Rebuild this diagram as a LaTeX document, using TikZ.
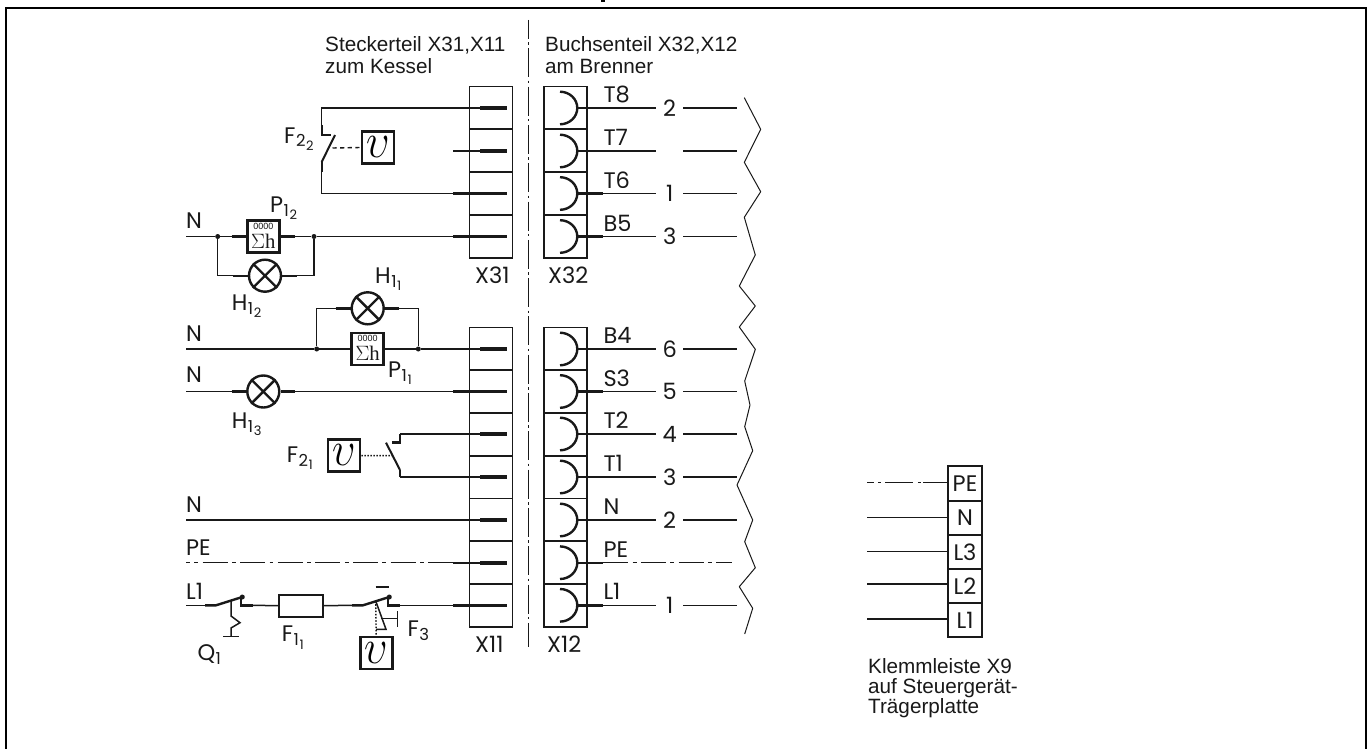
\documentclass[tikz,border=0pt]{standalone}
\usepackage{fontspec}
\usepackage{graphicx}
\setmainfont{Liberation Sans}
\newfontfamily\labfont{Poppins}
\newfontfamily\hfont{Liberation Serif}
\newcommand{\hdrsize}{\fontsize{20.7}{20.7}\selectfont}
\newcommand{\labsize}{\labfont\fontsize{22.5}{22.5}\selectfont}
\newcommand{\subsize}{\fontsize{16.5}{16.5}\selectfont}
\newcommand{\subsubsize}{\fontsize{13}{13}\selectfont}
% name with a subscript and a sub-subscript
\newcommand{\subtag}[3]{#1\kern0.5pt\raisebox{-4pt}{\subsize #2\kern0.5pt\raisebox{-3.5pt}{\subsubsize #3}}}
\colorlet{ink}{black!90}
\usetikzlibrary{calc}
\tikzset{
  frame/.style={line width=2.2pt,black},
  wire/.style={line width=1.5pt,ink},
  thinz/.style={line width=1pt,ink},
  stub/.style={line width=2.4pt,ink},
  pinbar/.style={line width=3.6pt,ink},
  conn/.style={line width=1.6pt,ink},
  thick box/.style={draw=ink,line width=2.8pt,inner sep=0pt},
  lamp/.style={draw=ink,circle,line width=2.4pt,minimum size=32pt,inner sep=0pt},
  lab/.style={inner sep=0pt,anchor=base west,font=\labsize,text=ink},
  hdr/.style={inner sep=0pt,anchor=base west,font=\hdrsize,text=ink},
  pewire/.style={line width=1.5pt,ink},
  dot/.style={circle,fill=ink,inner sep=0pt,minimum size=5pt},
  numnode/.style={inner sep=0pt,minimum width=26.6pt,minimum height=10pt,font=\labsize,text=ink},
}
\newcommand{\thermo}{\fontsize{20.7}{20.7}\selectfont\scalebox{2.0}[2.35]{$\upsilon$}}
\newcommand{\hourbox}[3]{%
  \node[thick box,minimum width=32pt,minimum height=32pt] (#1) at (#2,#3) {};
  \node[inner sep=0pt,font=\fontsize{9}{9}\selectfont,text=ink] (#1z) at ($(#2,#3)+(0,-10.5)$) {0000};
  \node[inner sep=0pt,font=\fontsize{20.7}{20.7}\selectfont,text=ink] (#1s) at ($(#2,#3)+(0,4.5)$) {$\Sigma$\hfont h};
}
\newcommand{\tempbox}[3]{%
  \node[thick box,minimum width=32pt,minimum height=32pt] (#1) at (#2,#3) {};
  \node[inner sep=0pt,text=black] (#1v) at ($(#2,#3)+(0,0)$) {\thermo};
}
\begin{document}
\begin{tikzpicture}[x=1pt,y=-1pt]
\useasboundingbox (0,0) rectangle (1371,749);
\fill[white] (0,0) rectangle (1371,749);
% page frame
\draw[frame] (6,749) -- (6,7.9) -- (1366,7.9) -- (1366,749);
\fill[black] (601,0) rectangle (605,2.2);

% separating line
\coordinate (cT) at (528.3,20);
\coordinate (cB) at (528.3,647.3);
\draw[line width=1.3pt,ink,dash pattern=on 29pt off 3.4pt on 2.5pt off 3.4pt,dash phase=10pt] (cT) -- (cB);

% headings
\node[hdr] (h1) at (325,51.7) {Steckerteil X31,X11};
\node[hdr] (h2) at (325,73.3) {zum Kessel};
\node[hdr] (h3) at (545,51.7) {Buchsenteil X32,X12};
\node[hdr] (h4) at (545,73.3) {am Brenner};

% connector housings
\draw[conn] (469.3,86.7) rectangle (512.3,257.7);
\draw[conn] (544,86.7) rectangle (587,257.7);
\foreach \y in {129.3,172,215}{
  \draw[conn] (469.3,\y) -- (512.3,\y);
  \draw[conn] (544,\y) -- (587,\y);
}
\draw[conn] (469.3,327.3) rectangle (512.3,626.7);
\draw[conn] (544,327.3) rectangle (587,626.7);
\foreach \y in {370,412.7,455.7,498.3,541,584}{
  \draw[conn] (469.3,\y) -- (512.3,\y);
  \draw[conn] (544,\y) -- (587,\y);
}
% plug pins
\foreach \n/\y in {a/108,b/151,c/193.5,d/236.5,e/349,f/391.5,g/434,h/477,i/520,j/562.7,k/605.3}{
  \coordinate (p\n) at (453,\y);
  \coordinate (m\n) at (480,\y);
  \coordinate (t\n) at (506.7,\y);
  \draw[stub] (p\n) -- (m\n);
  \draw[pinbar] (m\n) -- (t\n);
  % sockets
  \coordinate (s\n) at (560,\y-16.3);
  \coordinate (q\n) at (577.3,\y);
  \coordinate (o\n) at (603.3,\y);
  \draw[line width=2.4pt,ink] (s\n) arc[start angle=90,delta angle=-180,x radius=17.3pt,y radius=16.3pt];
  \draw[stub] (q\n) -- (o\n);
}
% numbered wires on the socket side
\foreach \n/\t/\l in {a/2/T8,b//T7,c/1/T6,d/3/B5,e/6/B4,f/5/S3,g/4/T2,h/3/T1,i/2/N,k/1/L1}{
  \path (o\n) ++(66.4,0) node[numnode] (num\n) {\t};
  \path (o\n) ++(133.4,0) coordinate (z\n);
  \draw[wire] (o\n) -- (num\n.west);
  \draw[wire] (num\n.east) -- (z\n);
  \path (o\n) ++(0,-5.5) node[lab] (lb\n) {\l};
}
\path (oj) ++(128.4,0) coordinate (zj);
\draw[pewire,dash pattern=on 25pt off 4.4pt on 3.8pt off 4.4pt] (oj) -- (zj);
\path (oj) ++(0,-5.5) node[lab] (lbj) {PE};

% connector names
\node[lab] (x31) at (475,283) {X31};
\node[lab] (x32) at (548,283) {X32};
\node[lab] (x11) at (475,652.7) {X11};
\node[lab] (x12) at (547,652.7) {X12};

% jagged break line
\draw[thinz,line join=bevel] (744.3,97.7) -- (760.7,129.3) -- (744.3,162.3) -- (760.7,191.7) -- (744.3,217.3) -- (755.3,255) -- (739.3,286) -- (755.3,306) -- (739.3,327) -- (755.3,349.3) -- (744.7,381) -- (750,405) -- (744.7,426.7) -- (752.7,450.7) -- (737,485) -- (752.7,520) -- (744.7,541.7) -- (755.3,567.7) -- (739.3,586.7) -- (752.7,608.3) -- (744.7,634);

% F2_2 contact
\coordinate (ka) at (321.7,108);
\coordinate (kb) at (321.7,125);
\coordinate (kc) at (321.7,135);
\coordinate (kd) at (331,135);
\coordinate (ke) at (335,135);
\coordinate (kf) at (321.7,162);
\coordinate (kg) at (321.7,172);
\coordinate (kh) at (321.7,193.5);
\coordinate (kdash) at (332.5,148);
\draw[wire] (pa) -- (ka) -- (kb);
\draw[stub,line cap=butt] (kb) -- (kc) -- (kd);
\draw[line width=2pt,ink] (ke) -- (kf);
\draw[stub] (kf) -- (kg);
\draw[wire] (kg) -- (kh) -- (pc);
\tempbox{v22}{378}{147.5}
\draw[line width=1.4pt,ink,dash pattern=on 4.2pt off 3.4pt] (kdash) -- (v22.west);
\node[lab] (F22) at (284,143) {\subtag{F}{2}{2}};

% row d: N, hour counter P1_2, lamp H1_2
\coordinate (Nd) at (186,236.5);
\node[lab] (Nlab1) at (186,228) {N};
\node[dot] (jd1) at (217.7,236.5) {};
\node[dot] (jd2) at (314,236.5) {};
\hourbox{P12}{263.3}{236.5}
\node[lamp] (H12) at (265,275.7) {};
\draw[ink,line width=2.4pt] (H12.45) -- (H12.225) (H12.135) -- (H12.315);
\coordinate (s1) at (231.7,236.5);
\coordinate (s2) at (295,236.5);
\coordinate (s3) at (233,275.7);
\coordinate (s4) at (297,275.7);
\coordinate (cd1) at (217.7,275.7);
\coordinate (cd2) at (314,275.7);
\draw[wire] (Nd) -- (jd1) -- (s1);
\draw[stub] (s1) -- (P12.west);
\draw[stub] (P12.east) -- (s2);
\draw[wire] (s2) -- (jd2) -- (pd);
\draw[wire] (jd1) -- (cd1) -- (s3);
\draw[stub] (s3) -- (H12.west);
\draw[stub] (H12.east) -- (s4);
\draw[wire] (s4) -- (cd2) -- (jd2);
\node[lab] (P12l) at (270,212) {\subtag{P}{1}{2}};
\node[lab] (H12l) at (231.7,310) {\subtag{H}{1}{2}};

% row e: N, hour counter P1_1, lamp H1_1
\coordinate (Ne) at (186,349);
\node[lab] (Nlab2) at (186,341) {N};
\node[dot] (je1) at (316.7,349) {};
\node[dot] (je2) at (418.3,349) {};
\hourbox{P11}{367.7}{349}
\node[lamp] (H11) at (367.7,308.3) {};
\draw[ink,line width=2.4pt] (H11.45) -- (H11.225) (H11.135) -- (H11.315);
\coordinate (e1) at (335.7,349);
\coordinate (e2) at (399,349);
\coordinate (e3) at (335.7,308.3);
\coordinate (e4) at (399,308.3);
\coordinate (ce1) at (316.7,308.3);
\coordinate (ce2) at (418.3,308.3);
\draw[wire] (Ne) -- (je1) -- (e1);
\draw[stub] (e1) -- (P11.west);
\draw[stub] (P11.east) -- (e2);
\draw[wire] (e2) -- (je2) -- (pe);
\draw[wire] (je1) -- (ce1) -- (e3);
\draw[stub] (e3) -- (H11.west);
\draw[stub] (H11.east) -- (e4);
\draw[wire] (e4) -- (ce2) -- (je2);
\node[lab] (P11l) at (388,377) {\subtag{P}{1}{1}};
\node[lab] (H11l) at (375,283) {\subtag{H}{1}{1}};

% row f: N, lamp H1_3
\coordinate (Nf) at (186,391.5);
\node[lab] (Nlab3) at (186,382) {N};
\node[lamp] (H13) at (263.3,391.5) {};
\draw[ink,line width=2.4pt] (H13.45) -- (H13.225) (H13.135) -- (H13.315);
\coordinate (f1) at (231.7,391.5);
\coordinate (f2) at (295,391.5);
\draw[wire] (Nf) -- (f1);
\draw[stub] (f1) -- (H13.west);
\draw[stub] (H13.east) -- (f2);
\draw[wire] (f2) -- (pf);
\node[lab] (H13l) at (231.7,428) {\subtag{H}{1}{3}};

% F2_1 contact
\tempbox{v21}{344}{455.5}
\coordinate (ga) at (400,434);
\coordinate (gb) at (400,442.3);
\coordinate (gc) at (391.7,442.3);
\coordinate (gd) at (386,442.7);
\coordinate (ge) at (400,470);
\coordinate (gf) at (400,477);
\coordinate (gdot) at (391.5,455.7);
\draw[wire] (pg) -- (ga);
\draw[stub] (ga) -- (gb) -- (gc);
\draw[line width=2pt,ink] (gd) -- (ge);
\draw[stub] (ge) -- (gf);
\draw[wire] (gf) -- (ph);
\draw[line width=1.5pt,ink,dash pattern=on 1.5pt off 1.5pt] (v21.east) -- (gdot);
\node[lab] (F21) at (286.7,462) {\subtag{F}{2}{1}};

% rows i, j
\coordinate (Ni) at (186,520);
\node[lab] (Nlab4) at (186,512) {N};
\draw[wire] (Ni) -- (pi);
\coordinate (Nj) at (186,562.7);
\node[lab] (PElab) at (186,555) {PE};
\draw[pewire,dash pattern=on 25pt off 4.4pt on 3.8pt off 4.4pt,dash phase=21pt] (Nj) -- (pj);

% row k: L1, Q1, fuse, F3
\coordinate (Lk) at (186,605.3);
\node[lab] (L1lab) at (186,599) {L1};
\coordinate (q0) at (205,605.3);
\coordinate (q1) at (216,605.3);
\coordinate (q2) at (242.3,597);
\coordinate (q3) at (241,605.3);
\coordinate (q4) at (252.5,605.3);
\node[draw=ink,line width=1.8pt,minimum width=43.4pt,minimum height=22pt,inner sep=0pt] (F11) at (301,605.7) {};
\coordinate (r0) at (352,605.3);
\coordinate (r1) at (363,605.3);
\coordinate (r2) at (389.3,597);
\coordinate (r3) at (388,605.3);
\coordinate (r4) at (399.5,605.3);
\draw[wire] (Lk) -- (q0);
\draw[stub] (q0) -- (q1) -- (q2);
\draw[stub] (q3 |- q2) -- (q3) -- (q4);
\node[dot] (qd) at (q2) {};
\draw[wire] (q4) -- (F11.west);
\draw[wire] (F11.east) -- (r0);
\draw[stub] (r0) -- (r1) -- (r2);
\draw[stub] (r3 |- r2) -- (r3) -- (r4);
\node[dot] (rd) at (r2) {};
\draw[wire] (r4) -- (pk);
\coordinate (bar1) at (375.7,586.7);
\coordinate (bar2) at (389,586.7);
\draw[stub] (bar1) -- (bar2);
% Q1 mechanism
\coordinate (qm0) at (231,601);
\coordinate (qm1) at (231,616);
\coordinate (qm2) at (240,622.7);
\coordinate (qm3) at (231,628);
\coordinate (qm4) at (231,636.7);
\coordinate (qm5) at (223.3,636.7);
\coordinate (qm6) at (239.3,636.7);
\draw[wire] (qm0) -- (qm1) -- (qm2) -- (qm3) -- (qm4);
\draw[wire] (qm5) -- (qm6);
\node[lab] (Q1l) at (197.3,660) {\subtag{Q}{1}{}};
\node[lab] (F11l) at (281.7,641.7) {\subtag{F}{1}{1}};
% F3 mechanism
\tempbox{v3}{376.2}{653}
\coordinate (t0) at (375.7,601);
\coordinate (t1) at (386,629.3);
\coordinate (t2) at (376,629.3);
\coordinate (t3) at (381.3,618.3);
\coordinate (t4) at (397.3,618.3);
\coordinate (t5) at (397.3,611);
\coordinate (t6) at (397.3,626.5);
\draw[line width=1.4pt,ink,dash pattern=on 1.6pt off 1.6pt] (t0) -- (v3.north);
\draw[wire] (t0) -- (t1) -- (t2);
\draw[wire] (t3) -- (t4);
\draw[wire] (t5) -- (t6);
\node[lab] (F3l) at (407.3,636.7) {\subtag{F}{3}{}};

% terminal strip X9
\tikzset{termcell/.style={draw=ink,line width=2pt,minimum width=34.6pt,inner sep=0pt,font=\labsize,text=ink}}
\node[termcell,minimum height=35pt] (tPE) at (965,483.2) {PE};
\node[termcell,minimum height=34.3pt] (tN) at (965,517.9) {N};
\node[termcell,minimum height=34.3pt] (tL3) at (965,552.2) {L3};
\node[termcell,minimum height=34pt] (tL2) at (965,586.3) {L2};
\node[termcell,minimum height=34pt] (tL1) at (965,620.3) {L1};
\coordinate (wPE) at (867.3,482.7);
\coordinate (wN) at (867.3,517.3);
\coordinate (wL3) at (867.3,551.7);
\coordinate (wL2) at (867.3,584);
\coordinate (wL1) at (867.3,619);
\draw[pewire,dash pattern=on 7pt off 3.5pt on 3pt off 4.5pt on 28pt off 4.5pt on 3pt off 2.5pt on 30pt] (wPE) -- (tPE.west |- wPE);
\draw[wire] (wN) -- (tN.west |- wN);
\draw[wire] (wL3) -- (tL3.west |- wL3);
\draw[wire] (wL2) -- (tL2.west |- wL2);
\draw[wire] (wL1) -- (tL1.west |- wL1);
\node[hdr] (k1) at (868,673) {Klemmleiste X9};
\node[hdr] (k2) at (868,693) {auf Steuerger\"at-};
\node[hdr] (k3) at (868,713) {Tr\"agerplatte};
\end{tikzpicture}
\end{document}
